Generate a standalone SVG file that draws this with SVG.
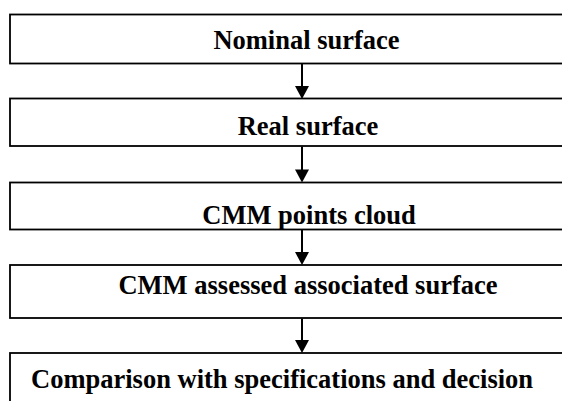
<svg xmlns="http://www.w3.org/2000/svg" width="562" height="401" viewBox="0 0 562 401">
<defs>
<style>
.box{fill:#fff;stroke:#000;stroke-width:1.8}
.conn{stroke:#000;stroke-width:2;fill:none}
.head{fill:#000}
</style>
</defs>
<rect width="562" height="401" fill="#fff"/>
<g font-family="'Liberation Serif', 'Times New Roman', 'DejaVu Serif', serif" font-weight="bold" font-size="26.5" fill="#000">
<g id="node-nominal">
<rect class="box" x="10" y="14.5" width="600" height="49"/>
<text x="306.5" y="49" text-anchor="middle">Nominal surface</text>
</g>
<g id="node-real">
<rect class="box" x="10" y="98.5" width="600" height="47.5"/>
<text x="308" y="135" text-anchor="middle">Real surface</text>
</g>
<g id="node-cloud">
<rect class="box" x="10" y="182.5" width="600" height="47"/>
<text x="309" y="224" text-anchor="middle">CMM points cloud</text>
</g>
<g id="node-assessed">
<rect class="box" x="10" y="265" width="600" height="53"/>
<text x="308" y="294" text-anchor="middle">CMM assessed associated surface</text>
</g>
<g id="node-comparison">
<rect class="box" x="10" y="353" width="600" height="70"/>
<text x="31" y="388">Comparison with specifications and decision</text>
</g>
</g>
<g id="connectors">
<line class="conn" x1="302" y1="64" x2="302" y2="87"/>
<polygon class="head" points="295,86 309,86 302,99"/>
<line class="conn" x1="302" y1="146.5" x2="302" y2="170"/>
<polygon class="head" points="295,169.5 309,169.5 302,182.5"/>
<line class="conn" x1="302" y1="230" x2="302" y2="253"/>
<polygon class="head" points="295,252 309,252 302,265"/>
<line class="conn" x1="302" y1="318.5" x2="302" y2="341"/>
<polygon class="head" points="295,340 309,340 302,353"/>
</g>
</svg>
